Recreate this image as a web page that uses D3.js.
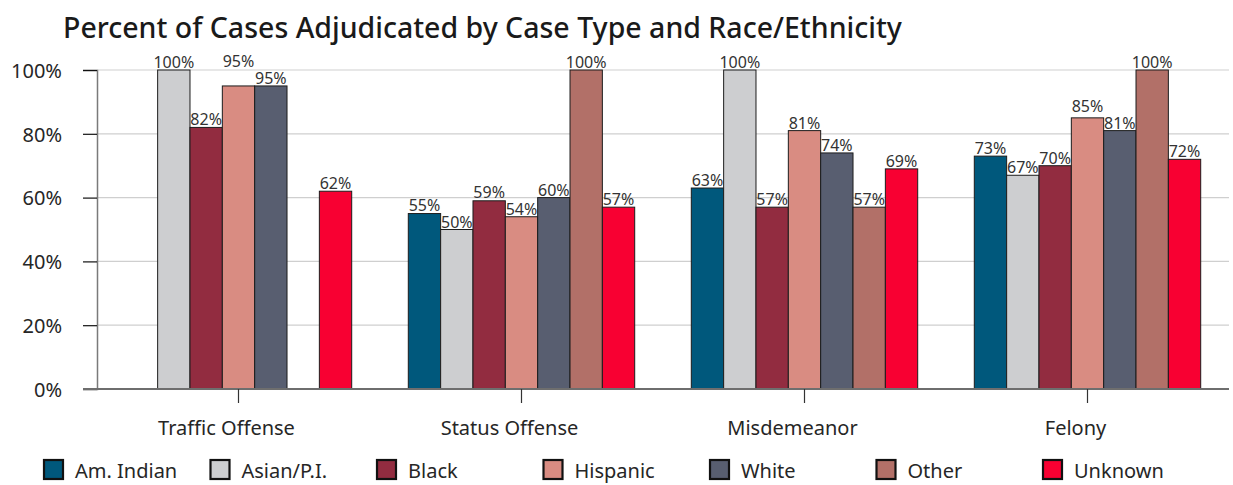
<!DOCTYPE html>
<html>
<head>
<meta charset="utf-8">
<script src="https://cdn.jsdelivr.net/npm/d3@7"></script>
<style>
  body { margin: 0; background: #fff; }
  svg text { font-family: "Noto Sans", sans-serif; fill: #262626; }
</style>
</head>
<body>
<div id="root"></div>
<script>
const caseTypes = ['Traffic Offense', 'Status Offense', 'Misdemeanor', 'Felony']
const races = ['Am. Indian', 'Asian/P.I.', 'Black', 'Hispanic', 'White', 'Other', 'Unknown']
const raceColors = ['#00587c', '#cdced0', '#922c40', '#d98c82', '#585e70', '#b27068', '#f80032']

// percent adjudicated, one array per case type, in race order (null = no bar)
const trafficOffense = [null, 100, 82, 95, 95, null, 62]
const statusOffense = [55, 50, 59, 54, 60, 100, 57]
const misdemeanor = [63, 100, 57, 81, 74, 57, 69]
const felony = [73, 67, 70, 85, 81, 100, 72]
const yTicks = [0, 20, 40, 60, 80, 100]

const values = [trafficOffense, statusOffense, misdemeanor, felony]

const graph = {
  width: 1233,
  height: 485,
  left: 97,
  right: 1229,
  top: 70,
  bottom: 389
}

const svg = d3.select('#root')
  .append('svg')
  .attr('width', graph.width)
  .attr('height', graph.height)

svg.append('text')
  .attr('x', 63)
  .attr('y', 38)
  .style('font-size', '28.5px')
  .style('font-weight', 500)
  .style('fill', '#1a1a1a')
  .text('Percent of Cases Adjudicated by Case Type and Race/Ethnicity')

const x0 = d3.scaleBand()
  .domain(caseTypes)
  .range([graph.left, graph.right])
  .paddingInner(0.2)
  .paddingOuter(0.1)

const x1 = d3.scaleBand()
  .domain(races)
  .range([0, x0.bandwidth()])

const y = d3.scaleLinear()
  .domain([0, 100])
  .range([graph.bottom, graph.top])

const color = d3.scaleOrdinal().domain(races).range(raceColors)

// gridlines
svg.append('g')
  .selectAll('line')
  .data(yTicks.filter(t => t > 0))
  .join('line')
  .attr('x1', graph.left)
  .attr('x2', graph.right)
  .attr('y1', d => y(d))
  .attr('y2', d => y(d))
  .attr('stroke', '#cfcfcf')
  .attr('stroke-width', 1.2)

// y axis
const yAxis = svg.append('g')
  .attr('transform', `translate(${graph.left}, 0)`)
  .call(d3.axisLeft(y).tickValues(yTicks).tickSize(14).tickPadding(21).tickFormat(d => d + '%'))
yAxis.select('.domain').attr('stroke', '#7a7a7a').attr('stroke-width', 1.5)
yAxis.selectAll('.tick line').attr('stroke', '#111').attr('stroke-width', 1.2)
yAxis.selectAll('.tick text').style('font-size', '20px').attr('dy', '0.36em').attr('fill', '#262626')

// bars
const groups = svg.append('g')
  .selectAll('g')
  .data(caseTypes)
  .join('g')
  .attr('transform', d => `translate(${x0(d)}, 0)`)

const cells = groups.selectAll('g')
  .data((d, i) => races.map((r, j) => ({ race: r, value: values[i][j] })).filter(c => c.value != null))
  .join('g')

cells.append('rect')
  .attr('x', d => x1(d.race))
  .attr('y', d => y(d.value))
  .attr('width', x1.bandwidth())
  .attr('height', d => y(0) - y(d.value))
  .attr('fill', d => color(d.race))
  .attr('stroke', '#1c1c1c')
  .attr('stroke-width', 1)

cells.append('text')
  .attr('x', d => x1(d.race) + x1.bandwidth() / 2)
  .attr('y', d => y(d.value) - 2)
  .attr('text-anchor', 'middle')
  .style('font-size', '16px')
  .style('fill', '#333')
  .text(d => d.value + '%')

// lift a label above its right neighbour's when the left bar is as tall or taller and they'd collide
groups.each(function () {
  const ls = d3.select(this).selectAll('text').nodes()
  const ys = ls.map(n => +n.getAttribute('y'))
  for (let i = 0; i < ls.length - 1; i++) {
    const a = ls[i], b = ls[i + 1]
    const ax = +a.getAttribute('x'), bx = +b.getAttribute('x')
    const half = (a.getComputedTextLength() + b.getComputedTextLength()) / 2 + 2
    if (ys[i] <= ys[i + 1] && bx - ax < half && ys[i + 1] - ys[i] < 16.5) {
      a.setAttribute('y', ys[i + 1] - 17)
    }
  }
})

// x axis
const xAxis = svg.append('g')
  .attr('transform', `translate(0, ${graph.bottom})`)
  .call(d3.axisBottom(x0).tickSize(14).tickSizeOuter(0))
xAxis.select('.domain')
  .attr('d', `M83,0H${graph.right}`)
  .attr('stroke', '#6e6e6e')
  .attr('stroke-width', 2)
xAxis.selectAll('.tick line').attr('stroke', '#333').attr('stroke-width', 1.2)
xAxis.selectAll('.tick text')
  .style('font-size', '20px')
  .attr('y', 46)
  .attr('dy', 0)
  .attr('dx', -12)
  .attr('fill', '#262626')

// legend
const legend = svg.append('g')
  .attr('transform', 'translate(43, 459)')
  .selectAll('g')
  .data(races)
  .join('g')
  .attr('transform', (d, i) => `translate(${i * 166.5}, 0)`)

legend.append('rect')
  .attr('x', 1)
  .attr('y', 1)
  .attr('width', 19)
  .attr('height', 19)
  .attr('fill', d => color(d))
  .attr('stroke', '#111')
  .attr('stroke-width', 2.2)

legend.append('text')
  .attr('x', 32)
  .attr('y', 19)
  .style('font-size', '20px')
  .text(d => d)
</script>
</body>
</html>
